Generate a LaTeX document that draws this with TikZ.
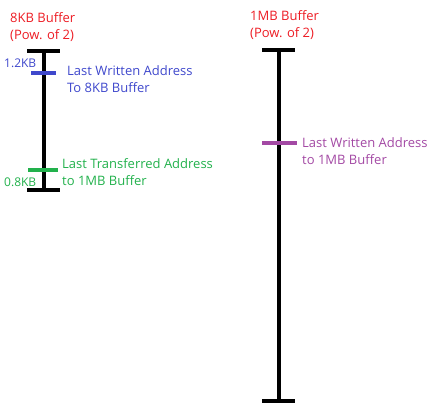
\documentclass[tikz,border=0pt]{standalone}
\usepackage{fontspec}
\setmainfont{Open Sans}
\definecolor{pred}{RGB}{237,28,36}
\definecolor{pblue}{RGB}{63,72,204}
\definecolor{pgreen}{RGB}{34,177,76}
\definecolor{ppurple}{RGB}{163,73,164}
\begin{document}
\begin{tikzpicture}[x=1pt,y=-1pt,
  bar/.style={line width=4pt,black},
  tick/.style={line width=4.5pt},
  lbl/.style={font=\fontsize{13}{17.5}\selectfont,inner sep=0pt,anchor=west,align=left},
  val/.style={font=\fontsize{12}{14}\selectfont,inner sep=0pt,anchor=west}]
\useasboundingbox (0,0) rectangle (442,411);
% left buffer
\coordinate (Lt) at (44,51);
\coordinate (Lb) at (44,190);
\coordinate (Ltl) at (27,51); \coordinate (Ltr) at (60,51);
\coordinate (Lbl) at (27,190); \coordinate (Lbr) at (60,190);
\draw[bar] (Lt) -- (Lb);
\draw[bar] (Ltl) -- (Ltr);
\draw[bar] (Lbl) -- (Lbr);
\coordinate (Bl) at (31,73); \coordinate (Br) at (56,73);
\draw[tick,pblue] (Bl) -- (Br);
\coordinate (Gl) at (28,170); \coordinate (Gr) at (58,170);
\draw[tick,pgreen] (Gl) -- (Gr);
\node[lbl,text=pred] (t8) at (10,27) {8KB Buffer\\(Pow. of 2)};
\node[val,text=pblue] (k12) at (4,63) {1.2KB};
\node[lbl,text=pblue] (lw8) at (67,79) {Last Written Address\\To 8KB Buffer};
\node[lbl,text=pgreen] (lt) at (62,172) {Last Transferred Address\\to 1MB Buffer};
\node[val,text=pgreen] (k08) at (4,182) {0.8KB};
% right buffer
\coordinate (Rt) at (279,50);
\coordinate (Rb) at (279,401);
\coordinate (Rtl) at (262,50); \coordinate (Rtr) at (295,50);
\coordinate (Rbl) at (262,401); \coordinate (Rbr) at (295,401);
\draw[bar] (Rt) -- (Rb);
\draw[bar] (Rtl) -- (Rtr);
\draw[bar] (Rbl) -- (Rbr);
\coordinate (Pl) at (262,143); \coordinate (Pr) at (297,143);
\draw[tick,ppurple] (Pl) -- (Pr);
\node[lbl,text=pred] (t1) at (250,25) {1MB Buffer\\(Pow. of 2)};
\node[lbl,text=ppurple] (lw1) at (302,151) {Last Written Address\\to 1MB Buffer};
\end{tikzpicture}
\end{document}
